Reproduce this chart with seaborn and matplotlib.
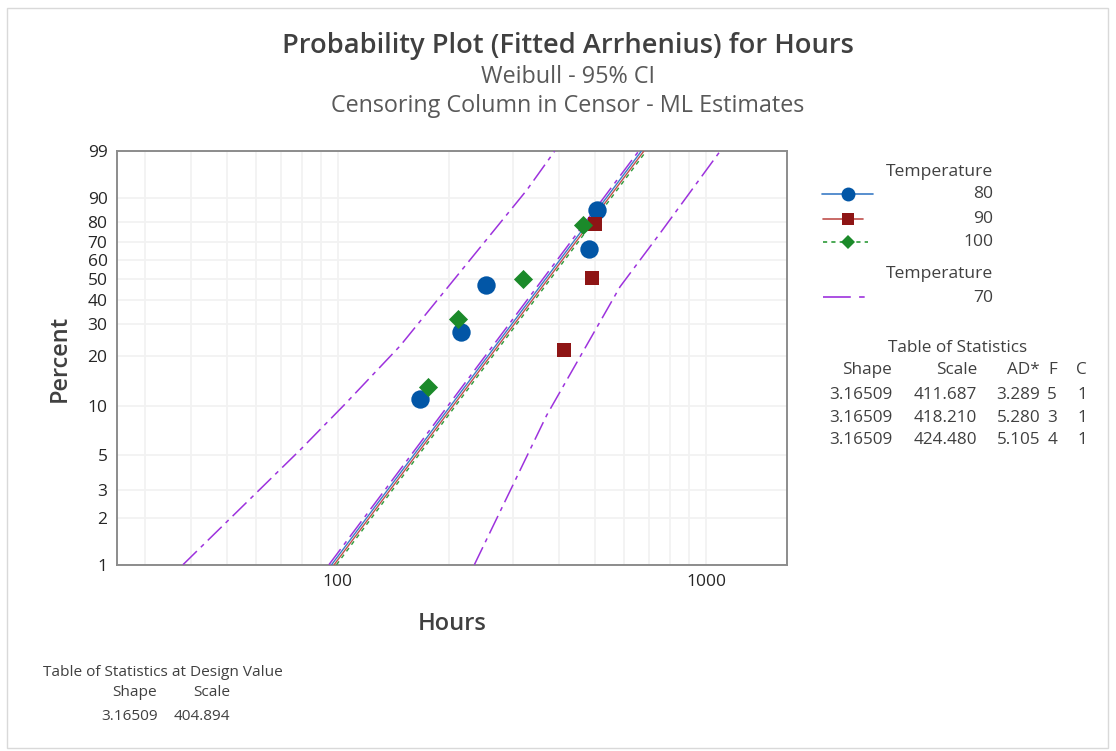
import numpy as np
import matplotlib
matplotlib.use("Agg")
import matplotlib.pyplot as plt
import seaborn as sns
import pandas as pd
from matplotlib.lines import Line2D
from matplotlib.patches import Rectangle
from matplotlib.ticker import FixedLocator, FixedFormatter, NullFormatter, LogLocator

# ---------------- data ----------------
temps = ["80", "90", "100"]

hours_80 = [167.3, 216.2, 252.7, 481.3, 505.0]
pct_80 = [11.0, 27.0, 46.8, 66.0, 85.5]

hours_90 = [410.8, 489.5, 499.7]
pct_90 = [21.6, 50.7, 79.2]

hours_100 = [176.2, 212.2, 318.6, 463.4]
pct_100 = [13.1, 31.7, 50.2, 78.5]

shape = 3.16509
scales = [411.687, 418.210, 424.480]
ad_stats = ["3.289", "5.280", "5.105"]
fail_counts = ["5", "3", "4"]
cens_counts = ["1", "1", "1"]

design_temp = "70"
design_scale = 404.894

# 95% confidence band around the design-temperature fit
ci_lower_pct = [1.0, 5.35, 10.3, 22.7, 92.5, 99.0]
ci_lower_hours = [38.0, 79.0, 104.7, 147.7, 326.1, 388.0]
ci_upper_pct = [1.0, 8.8, 46.1, 74.5, 99.0]
ci_upper_hours = [235.0, 369.4, 584.2, 750.5, 1092.0]

y_ticks = [1, 2, 3, 5, 10, 20, 30, 40, 50, 60, 70, 80, 90, 99]
x_ticks = [100, 1000]

# ---------------- style ----------------
sns.set_style("white")
plt.rcParams["font.family"] = ["Open Sans", "DejaVu Sans"]
plt.rcParams["lines.scale_dashes"] = False

W, H = 1116, 751
fig = plt.figure(figsize=(W / 100, H / 100), dpi=100)


def fx(x):
    return x / W


def fy(y):
    return 1 - y / H


ax = fig.add_axes([fx(117.3), fy(564.7), fx(787.3) - fx(117.3), fy(151.3) - fy(564.7)])


def wb_fwd(p):
    p = np.clip(np.asarray(p, dtype=float), 1e-6, 100 - 1e-6)
    return np.log(-np.log(1 - p / 100.0))


def wb_inv(w):
    return 100.0 * (1 - np.exp(-np.exp(np.asarray(w, dtype=float))))


ax.set_xscale("log")
ax.set_yscale("function", functions=(wb_fwd, wb_inv))

line_blue = "#3b7cc6"
line_red = "#c0504d"
line_green = "#2e9b3a"
mk_blue = "#0256a6"
mk_red = "#8e1515"
mk_green = "#1b8a2a"
purple = "#9d32dd"
dashdot = (0, (14, 4, 3, 4))

fit_pct = np.array([1.0, 99.0])


def fit_hours(scale):
    return scale * (-np.log(1 - fit_pct / 100.0)) ** (1.0 / shape)


line_styles = [
    dict(color=line_blue, linestyle="-"),
    dict(color=line_red, linestyle="-"),
    dict(color=line_green, linestyle=(0, (3, 3))),
]
for sc, st in zip(scales, line_styles):
    d = pd.DataFrame({"Hours": fit_hours(sc), "Percent": fit_pct})
    sns.lineplot(data=d, x="Hours", y="Percent", ax=ax, sort=False, estimator=None,
                 lw=1.0, zorder=3, **st)

# design-temperature fit and its confidence band
d70 = pd.DataFrame({"Hours": fit_hours(design_scale), "Percent": fit_pct})
sns.lineplot(data=d70, x="Hours", y="Percent", ax=ax, sort=False, estimator=None,
             color=purple, lw=1.1, linestyle=dashdot, zorder=4)
for hrs, pc in [(ci_lower_hours, ci_lower_pct), (ci_upper_hours, ci_upper_pct)]:
    d = pd.DataFrame({"Hours": hrs, "Percent": pc})
    sns.lineplot(data=d, x="Hours", y="Percent", ax=ax, sort=False, estimator=None,
                 color=purple, lw=1.1, linestyle=dashdot, zorder=4)

# observed failures
sns.scatterplot(x=hours_80, y=pct_80, ax=ax, marker="o", s=175, color=mk_blue,
                edgecolor=mk_blue, linewidth=0, zorder=5)
sns.scatterplot(x=hours_90, y=pct_90, ax=ax, marker="s", s=110, color=mk_red,
                edgecolor=mk_red, linewidth=0, zorder=5)
sns.scatterplot(x=hours_100, y=pct_100, ax=ax, marker="D", s=95, color=mk_green,
                edgecolor=mk_green, linewidth=0, zorder=5)

# ---------------- axes ----------------
ax.set_xlim(25.2, 1663)
ax.set_ylim(1, 99)
ax.xaxis.set_major_locator(FixedLocator(x_ticks))
ax.xaxis.set_major_formatter(FixedFormatter([str(t) for t in x_ticks]))
ax.xaxis.set_minor_locator(LogLocator(base=10, subs=np.arange(2, 10)))
ax.xaxis.set_minor_formatter(NullFormatter())
ax.yaxis.set_major_locator(FixedLocator(y_ticks))
ax.yaxis.set_major_formatter(FixedFormatter([str(t) for t in y_ticks]))
ax.yaxis.set_minor_locator(FixedLocator([]))

ax.grid(True, which="both", axis="x", color="#f2f2f2", lw=1.3, zorder=0)
ax.grid(True, which="major", axis="y", color="#f2f2f2", lw=1.3, zorder=0)
ax.set_axisbelow(True)

ax.tick_params(axis="both", which="major", direction="out", length=5, width=1.2,
               color="#8c8c8c", labelsize=12.5, labelcolor="#262626", pad=2)
ax.tick_params(axis="x", which="minor", length=0)
for s in ax.spines.values():
    s.set_color("#8c8c8c")
    s.set_linewidth(1.4)

ax.set_xlabel("Hours", fontsize=17, fontweight="semibold", color="#404040", va="center")
ax.set_ylabel("Percent", fontsize=17, fontweight="semibold", color="#404040", va="center")
ax.xaxis.set_label_coords(0.5, -0.144)
ax.yaxis.set_label_coords(-0.0855, 0.5)

# ---------------- titles ----------------
fig.text(fx(568), fy(46), "Probability Plot (Fitted Arrhenius) for Hours", ha="center",
         va="center", fontsize=19.6, fontweight="semibold", color="#404040")
fig.text(fx(568), fy(77), "Weibull - 95% CI", ha="center", va="center",
         fontsize=16.8, color="#595959")
fig.text(fx(568), fy(106), "Censoring Column in Censor - ML Estimates", ha="center",
         va="center", fontsize=16.8, color="#595959")

# ---------------- legend ----------------
txt = "#404040"
fs_leg = 12.6
leg_right = 993
fig.text(fx(leg_right), fy(172), "Temperature", ha="right", va="center", fontsize=fs_leg, color=txt)
legend_rows = [
    (temps[0], 194, 822, 873, line_blue, "-", "o", mk_blue, 10),
    (temps[1], 219, 823, 863, line_red, "-", "s", mk_red, 8),
    (temps[2], 242, 823, 868, line_green, (0, (3, 3)), "D", mk_green, 7),
]
for lab, y, x0, x1, lc, ls, mk, mc, ms in legend_rows:
    fig.add_artist(Line2D([fx(x0), fx(x1)], [fy(y), fy(y)], transform=fig.transFigure,
                          color=lc, linestyle=ls, lw=1.2))
    fig.add_artist(Line2D([fx(847.5)], [fy(y)], transform=fig.transFigure, marker=mk,
                          markersize=ms, color=mc, markeredgewidth=0, linestyle="none"))
    fig.text(fx(leg_right), fy(y), lab, ha="right", va="center", fontsize=fs_leg, color=txt)
fig.text(fx(leg_right), fy(274), "Temperature", ha="right", va="center", fontsize=fs_leg, color=txt)
fig.add_artist(Line2D([fx(823), fx(865)], [fy(297), fy(297)], transform=fig.transFigure,
                      color=purple, lw=1.2, linestyle=(0, (20, 6, 4, 6))))
fig.text(fx(leg_right), fy(298), design_temp, ha="right", va="center", fontsize=fs_leg, color=txt)

# ---------------- statistics table ----------------
fs_tab = 12.3
fig.text(fx(958), fy(348), "Table of Statistics", ha="center", va="center", fontsize=fs_tab, color=txt)
col_x = [892, 977, 1040, 1057, 1087]
for cx, h in zip(col_x, ["Shape", "Scale", "AD*", "F", "C"]):
    fig.text(fx(cx), fy(370), h, ha="right", va="center", fontsize=fs_tab, color=txt)
for i, (sc, ad, f, c) in enumerate(zip(scales, ad_stats, fail_counts, cens_counts)):
    y = 395 + i * 22.7
    vals = [f"{shape:.5f}", f"{sc:.3f}", ad, f, c]
    for cx, v in zip(col_x, vals):
        fig.text(fx(cx), fy(y), v, ha="right", va="center", fontsize=fs_tab, color=txt)

fs_small = 11.1
fig.text(fx(163), fy(673), "Table of Statistics at Design Value", ha="center", va="center",
         fontsize=fs_small, color=txt)
fig.text(fx(157), fy(693), "Shape", ha="right", va="center", fontsize=fs_small, color=txt)
fig.text(fx(230), fy(693), "Scale", ha="right", va="center", fontsize=fs_small, color=txt)
fig.text(fx(158), fy(717), f"{shape:.5f}", ha="right", va="center", fontsize=fs_small, color=txt)
fig.text(fx(230), fy(717), f"{design_scale:.3f}", ha="right", va="center", fontsize=fs_small, color=txt)

# outer frame
fig.add_artist(Rectangle((fx(7), fy(748)), fx(1108) - fx(7), fy(8) - fy(748),
                         transform=fig.transFigure, fill=False, edgecolor="#d9d9d9", lw=1))

fig.savefig("out.png", dpi=100)
